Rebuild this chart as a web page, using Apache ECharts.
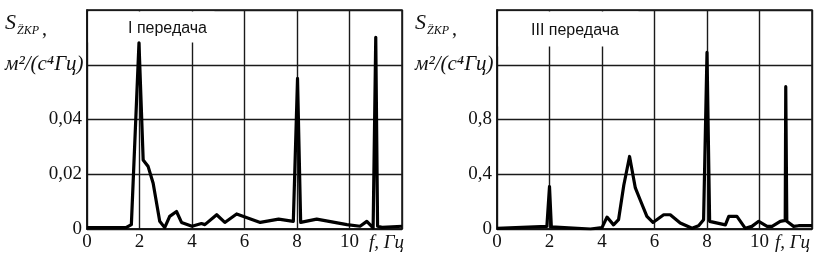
<!DOCTYPE html>
<html>
<head>
<meta charset="utf-8">
<script src="https://cdn.jsdelivr.net/npm/echarts@6/dist/echarts.min.js"></script>
<style>html,body{margin:0;padding:0;background:#fff}#c{width:826px;height:254px}</style>
</head>
<body>
<div id="c"></div>
<script>
// ---- data ----
const leftTitle = 'I передача';
const rightTitle = 'III передача';
const xTicks = [0, 2, 4, 6, 8, 10];
const leftFreq = [0, 1.5, 1.69, 1.98, 2.14, 2.33, 2.52, 2.77, 2.96, 3.15, 3.41, 3.6, 4.0, 4.36, 4.49, 4.94, 5.25, 5.7, 6.6, 7.3, 7.86, 8.02, 8.14, 8.75, 9.9, 10.4, 10.66, 10.9, 11.0, 11.07, 11.24, 12];
const leftVals = [0.0005, 0.0006, 0.0016, 0.068, 0.0252, 0.0228, 0.0167, 0.0028, 0.0005, 0.0046, 0.0064, 0.0024, 0.001, 0.002, 0.0016, 0.0052, 0.0024, 0.0055, 0.0024, 0.0036, 0.0028, 0.055, 0.0024, 0.0036, 0.0016, 0.001, 0.0028, 0.0004, 0.070, 0.001, 0.0006, 0.001];
const rightFreq = [0, 1.9, 2.0, 2.07, 3.56, 4.0, 4.19, 4.44, 4.63, 4.83, 5.05, 5.27, 5.46, 5.71, 5.94, 6.35, 6.6, 6.98, 7.43, 7.68, 7.87, 8.0, 8.1, 8.7, 8.83, 9.14, 9.46, 9.71, 9.97, 10.29, 10.48, 10.79, 10.98, 11.0, 11.04, 11.3, 11.49, 12];
const rightVals = [0.005, 0.019, 0.31, 0.015, 0, 0.01, 0.087, 0.03, 0.068, 0.32, 0.53, 0.30, 0.21, 0.092, 0.048, 0.104, 0.104, 0.044, 0.005, 0.024, 0.068, 1.29, 0.056, 0.03, 0.092, 0.092, 0.005, 0.019, 0.056, 0.019, 0.019, 0.056, 0.063, 1.04, 0.056, 0.019, 0.024, 0.024];
const leftYTicks = [0, 0.02, 0.04];
const rightYTicks = [0, 0.4, 0.8];

const serif = '"Liberation Serif", "DejaVu Serif", serif';
const sans = '"Liberation Sans", Arial, sans-serif';
const ink = '#111';

function pairs(xs, ys) { return xs.map((x, i) => [x, ys[i]]); }
function yFmt(ticks, dec) {
  return function (v) {
    for (const t of ticks) {
      if (Math.abs(v - t) < 1e-9) return t === 0 ? '0' : t.toFixed(dec).replace('.', ',');
    }
    return '';
  };
}
function xFmt(v) { return xTicks.indexOf(Math.round(v)) >= 0 && Math.abs(v - Math.round(v)) < 1e-9 ? String(Math.round(v)) : ''; }

function xAxis(gi) {
  return {
    type: 'value', gridIndex: gi, min: 0, max: 12, interval: 2,
    axisLine: { show: true, lineStyle: { color: ink, width: 1.5 } },
    axisTick: { show: false },
    splitLine: { show: true, lineStyle: { color: '#1a1a1a', width: 1.4 } },
    axisLabel: { formatter: xFmt, fontFamily: serif, fontSize: 19, color: ink, margin: 4, showMaxLabel: true }
  };
}
function yAxis(gi, max, interval, ticks, dec) {
  return {
    type: 'value', gridIndex: gi, min: 0, max: max, interval: interval,
    axisLine: { show: true, lineStyle: { color: ink, width: 1.5 } },
    axisTick: { show: false },
    splitLine: { show: true, lineStyle: { color: '#1a1a1a', width: 1.4 } },
    axisLabel: { formatter: yFmt(ticks, dec), fontFamily: serif, fontSize: 19, color: ink, margin: 5 }
  };
}

function unitLabel(x0) {
  return [
    { type: 'text', left: x0, top: 12, style: { text: 'S', font: 'italic 22px ' + serif, fill: ink } },
    { type: 'text', left: x0 + 12, top: 25, style: { text: 'Z\u0308KP', font: 'italic 12px ' + serif, fill: ink } },
    { type: 'text', left: x0 + 37, top: 20, style: { text: ',', font: '20px ' + serif, fill: ink } },
    { type: 'text', left: x0, top: 54, style: { text: 'м\u00B2/(c\u2074Гц)', font: 'italic 21px ' + serif, fill: ink } }
  ];
}

const chart = echarts.init(document.getElementById('c'), null, { renderer: 'canvas' });
chart.setOption({
  animation: false,
  backgroundColor: '#fff',
  grid: [
    { left: 87, top: 10, width: 315, height: 219, show: true, borderColor: ink, borderWidth: 1.5, backgroundColor: 'transparent' },
    { left: 497, top: 10, width: 315, height: 219, show: true, borderColor: ink, borderWidth: 1.5, backgroundColor: 'transparent' }
  ],
  xAxis: [xAxis(0), xAxis(1)],
  yAxis: [yAxis(0, 0.08, 0.02, leftYTicks, 2), yAxis(1, 1.6, 0.4, rightYTicks, 1)],
  series: [
    { type: 'line', xAxisIndex: 0, yAxisIndex: 0, data: pairs(leftFreq, leftVals), symbol: 'none', z: 3,
      lineStyle: { color: '#000', width: 3.2, join: 'round' } },
    { type: 'line', xAxisIndex: 1, yAxisIndex: 1, data: pairs(rightFreq, rightVals), symbol: 'none', z: 3,
      lineStyle: { color: '#000', width: 3.2, join: 'round' } }
  ],
  graphic: [
    { type: 'rect', z: 1, shape: { x: 88.5, y: 11.5, width: 126, height: 31 }, style: { fill: '#fff' } },
    { type: 'rect', z: 1, shape: { x: 498.5, y: 11.5, width: 140, height: 35 }, style: { fill: '#fff' } },
    { type: 'text', z: 2, left: 128, top: 21, style: { text: leftTitle, font: '16px ' + sans, fill: ink } },
    { type: 'text', z: 2, left: 531, top: 23, style: { text: rightTitle, font: '16px ' + sans, fill: ink } },
    { type: 'text', z: 2, left: 369, top: 233, style: { text: 'f, Гц', font: 'italic 19px ' + serif, fill: ink } },
    { type: 'text', z: 2, left: 775, top: 233, style: { text: 'f, Гц', font: 'italic 19px ' + serif, fill: ink } }
  ].concat(unitLabel(5), unitLabel(415))
});
</script>
</body>
</html>
